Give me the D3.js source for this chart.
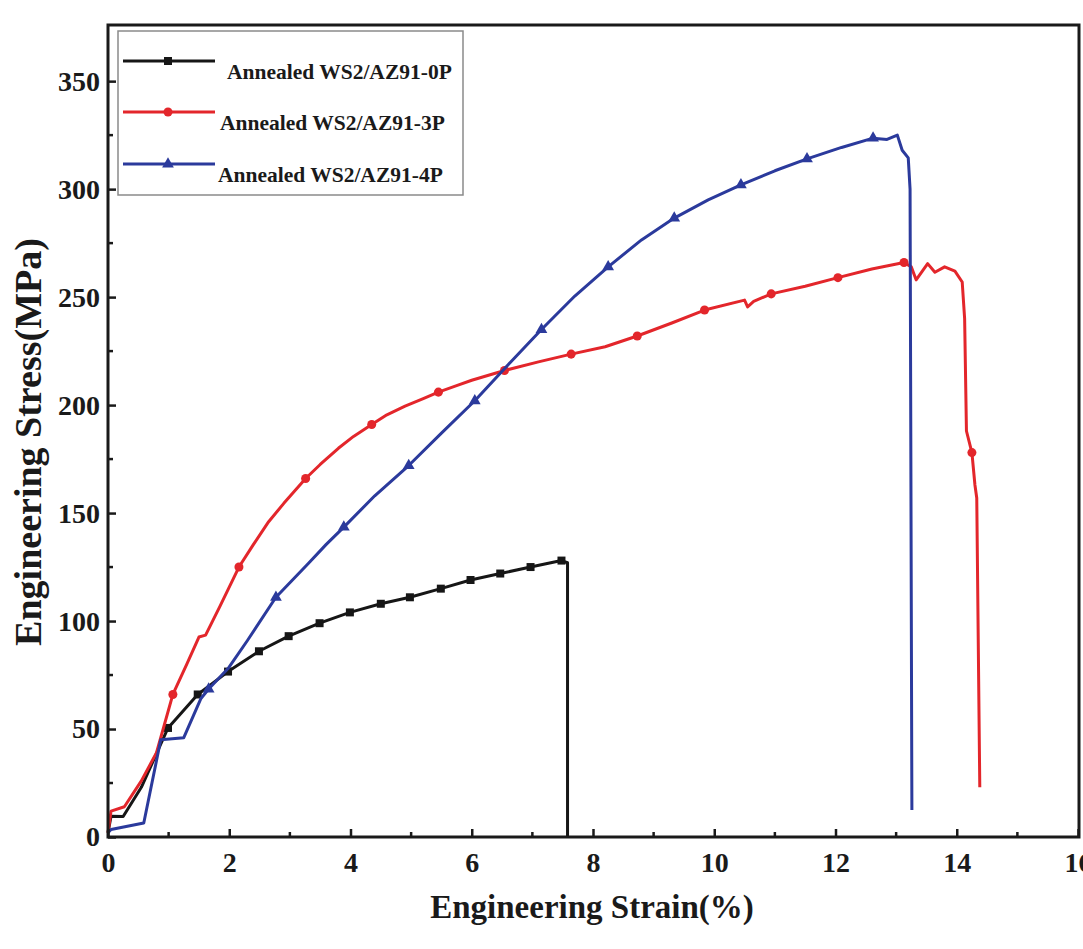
<!DOCTYPE html>
<html>
<head>
<meta charset="utf-8">
<script src="https://cdn.jsdelivr.net/npm/d3@7"></script>
<style>
  body { margin: 0; background: #fff; }
  svg { display: block; }
  text { font-family: "Liberation Serif", "Times New Roman", serif; font-weight: bold; fill: #1a1a1a; }
</style>
</head>
<body>
<div id="chart"></div>
<script>
// series labels
const seriesNames = ["Annealed WS2/AZ91-0P", "Annealed WS2/AZ91-3P", "Annealed WS2/AZ91-4P"];

// curve points: [strain %, stress MPa]
const curve0P = [
  [0, 2], [0.05, 9.6], [0.25, 9.5], [0.55, 23], [0.99, 50.5], [1.48, 66], [1.98, 76.6],
  [2.49, 86], [2.98, 93], [3.49, 99], [3.99, 104], [4.5, 108], [4.98, 111], [5.49, 115],
  [5.98, 119], [6.47, 122], [6.97, 125], [7.48, 128], [7.58, 127], [7.58, 0]
];
const curve3P = [
  [0, 2], [0.05, 12], [0.27, 14], [0.55, 26], [0.8, 39], [1.07, 66], [1.3, 80], [1.5, 92.6],
  [1.61, 93.5], [1.85, 107], [2.16, 125], [2.4, 135.5], [2.65, 146], [2.9, 154.5],
  [3.26, 166], [3.5, 172.5], [3.8, 180], [4.05, 185.5], [4.35, 191], [4.6, 195.5],
  [4.9, 199.5], [5.2, 203], [5.45, 206], [5.75, 209], [6.0, 211.5], [6.54, 216], [7.1, 220],
  [7.64, 223.6], [8.2, 227], [8.73, 232], [9.3, 238], [9.84, 244], [10.5, 248.6],
  [10.55, 245.5], [10.65, 248], [10.94, 251.5], [11.5, 255], [12.04, 259], [12.6, 263],
  [13.13, 266], [13.25, 264], [13.33, 258], [13.52, 265.5], [13.64, 261.5], [13.8, 264],
  [13.97, 262], [14.09, 257], [14.13, 240], [14.16, 188], [14.25, 178], [14.3, 163],
  [14.33, 157], [14.38, 23]
];
const curve4P = [
  [0, 2], [0.05, 3.5], [0.59, 6.5], [0.87, 45], [1.25, 46], [1.53, 64], [1.66, 68.5],
  [1.98, 78], [2.3, 91], [2.77, 111], [3.3, 126.5], [3.6, 135.5], [3.89, 143.5],
  [4.4, 158], [4.96, 172], [5.5, 187], [6.05, 202], [6.6, 218.7], [7.15, 235], [7.7, 250.5],
  [8.25, 264], [8.8, 276.5], [9.34, 286.6], [9.9, 295], [10.44, 302], [11.0, 308.5],
  [11.53, 314], [12.1, 319.3], [12.62, 323.6], [12.85, 323], [13.02, 325], [13.1, 318],
  [13.2, 314.5], [13.23, 300], [13.26, 12.5]
];

// symbol positions on each curve
const markers0P = [
  [0.99, 50.5], [1.48, 66], [1.98, 76.6], [2.49, 86], [2.98, 93], [3.49, 99], [3.99, 104],
  [4.5, 108], [4.98, 111], [5.49, 115], [5.98, 119], [6.47, 122], [6.97, 125], [7.48, 128]
];
const markers3P = [
  [1.07, 66], [2.16, 125], [3.26, 166], [4.35, 191], [5.45, 206], [6.54, 216], [7.64, 223.6],
  [8.73, 232], [9.84, 244], [10.94, 251.5], [12.04, 259], [13.13, 266], [14.25, 178]
];
const markers4P = [
  [1.66, 68.5], [2.77, 111], [3.89, 143.5], [4.96, 172], [6.05, 202], [7.15, 235],
  [8.25, 264], [9.34, 286.6], [10.44, 302], [11.53, 314], [12.62, 323.6]
];

// axis ticks
const xTicks = [0, 2, 4, 6, 8, 10, 12, 14, 16];
const xMinor = [1, 3, 5, 7, 9, 11, 13, 15];
const yTicks = [0, 50, 100, 150, 200, 250, 300, 350];
const yMinor = [25, 75, 125, 175, 225, 275, 325];

const width = 1083, height = 949;
const plotL = 108, plotR = 1078, plotT = 25, plotB = 837;

const svg = d3.select("#chart").append("svg")
  .attr("width", width)
  .attr("height", height);

const x = d3.scaleLinear().domain([0, 16]).range([plotL, plotR]);
const y = d3.scaleLinear().domain([0, 376]).range([plotB, plotT]);

const series = [
  { name: seriesNames[0], pts: curve0P, marks: markers0P, color: "#161616", symbol: d3.symbolSquare, size: 64 },
  { name: seriesNames[1], pts: curve3P, marks: markers3P, color: "#e3262b", symbol: d3.symbolCircle, size: 64 },
  { name: seriesNames[2], pts: curve4P, marks: markers4P, color: "#2b3a9c", symbol: d3.symbolTriangle, size: 60 }
];

const line = d3.line().x(d => x(d[0])).y(d => y(d[1]));

// curves
const g = svg.append("g");
series.forEach(s => {
  g.append("path")
    .attr("d", line(s.pts))
    .attr("fill", "none")
    .attr("stroke", s.color)
    .attr("stroke-width", 3)
    .attr("stroke-linejoin", "round");
  g.selectAll(null).data(s.marks).join("path")
    .attr("transform", d => `translate(${x(d[0])},${y(d[1])})`)
    .attr("d", d3.symbol().type(s.symbol).size(s.size))
    .attr("fill", s.color);
});

// frame
svg.append("rect")
  .attr("x", plotL).attr("y", plotT)
  .attr("width", plotR - plotL + 1).attr("height", plotB - plotT)
  .attr("fill", "none")
  .attr("stroke", "#1a1a1a")
  .attr("stroke-width", 3);

// ticks (inward)
const xAxis = d3.axisBottom(x).tickValues(xTicks).tickSize(-8).tickPadding(15).tickFormat(d3.format("d"));
const yAxis = d3.axisLeft(y).tickValues(yTicks).tickSize(-8).tickPadding(8).tickFormat(d3.format("d"));

const gx = svg.append("g").attr("transform", `translate(0,${plotB})`).call(xAxis);
const gy = svg.append("g").attr("transform", `translate(${plotL},0)`).call(yAxis);
[gx, gy].forEach(a => {
  a.select(".domain").remove();
  a.selectAll(".tick line").attr("stroke", "#1a1a1a").attr("stroke-width", 2.5);
  a.selectAll(".tick text").attr("font-size", 28).attr("font-family", null).attr("fill", "#1a1a1a");
});

svg.append("g").selectAll("line").data(xMinor).join("line")
  .attr("x1", d => x(d)).attr("x2", d => x(d))
  .attr("y1", plotB).attr("y2", plotB - 5)
  .attr("stroke", "#1a1a1a").attr("stroke-width", 2.5);
svg.append("g").selectAll("line").data(yMinor).join("line")
  .attr("x1", plotL).attr("x2", plotL + 5)
  .attr("y1", d => y(d)).attr("y2", d => y(d))
  .attr("stroke", "#1a1a1a").attr("stroke-width", 2.5);

// axis titles
svg.append("text")
  .attr("x", (plotL + plotR) / 2 - 1).attr("y", 918)
  .attr("text-anchor", "middle")
  .attr("font-size", 33)
  .text("Engineering Strain(%)");

svg.append("text")
  .attr("transform", "translate(41,442) rotate(-90)")
  .attr("text-anchor", "middle")
  .attr("font-size", 38)
  .text("Engineering Stress(MPa)");

// legend
const legend = svg.append("g");
legend.append("rect")
  .attr("x", 118).attr("y", 31).attr("width", 345).attr("height", 164)
  .attr("fill", "#fff").attr("stroke", "#8a8a8a").attr("stroke-width", 1.5);

const rowY = [61, 112, 164];
const textX = [227, 220, 218];
series.forEach((s, i) => {
  legend.append("line")
    .attr("x1", 123).attr("x2", 215)
    .attr("y1", rowY[i]).attr("y2", rowY[i])
    .attr("stroke", s.color).attr("stroke-width", 3);
  legend.append("path")
    .attr("transform", `translate(168,${rowY[i]})`)
    .attr("d", d3.symbol().type(s.symbol).size(s.size))
    .attr("fill", s.color);
  legend.append("text")
    .attr("x", textX[i]).attr("y", rowY[i] + 18)
    .attr("font-size", 21.5)
    .text(s.name);
});
</script>
</body>
</html>
